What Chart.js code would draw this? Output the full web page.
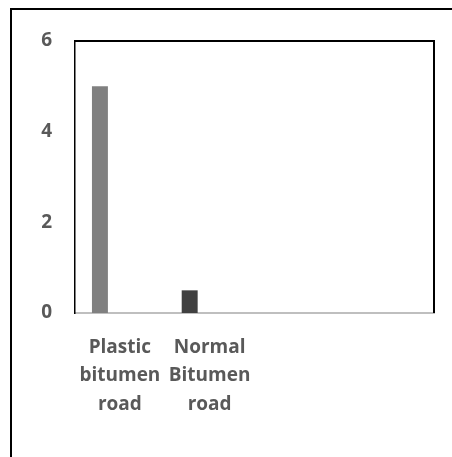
<!DOCTYPE html>
<html>
<head>
<meta charset="utf-8">
<script src="https://cdn.jsdelivr.net/npm/chart.js@4/dist/chart.umd.min.js"></script>
<style>
  html, body { margin: 0; padding: 0; background: #fff; }
  #wrap { position: relative; width: 452px; height: 457px; overflow: hidden; }
  #frame { position: absolute; left: 10px; top: 8px; width: 470px; height: 480px;
           border: 2px solid #000; box-sizing: border-box; }
  canvas { position: absolute; left: 0; top: 0; }
</style>
</head>
<body>
<div id="wrap">
  <div id="frame"></div>
  <canvas id="c" width="452" height="457"></canvas>
</div>
<script>
// Categories along the x axis (two trailing slots are empty)
const categories = [
  ["Plastic", "bitumen", "road"],
  ["Normal", "Bitumen", "road"],
  "",
  ""
];
// Measured values per road type
const roadValues = [5, 0.5, null, null];
// Second series slot, left without values
const spareValues = [null, null, null, null];
const barColors = ["#808080", "#404040", "#808080", "#808080"];
// Y axis ticks
const yTicks = [0, 2, 4, 6];

const textGray = "#595959";
const fontFamily = "'Open Sans', 'Noto Sans', sans-serif";

// Black frame on the top and right sides of the plot area
const plotFrame = {
  id: "plotFrame",
  afterDraw(chart) {
    const { ctx, chartArea: a } = chart;
    ctx.save();
    ctx.strokeStyle = "#000";
    ctx.lineWidth = 2;
    ctx.beginPath();
    ctx.moveTo(a.left, a.top);
    ctx.lineTo(a.right, a.top);
    ctx.lineTo(a.right, a.bottom);
    ctx.stroke();
    ctx.restore();
  }
};

new Chart(document.getElementById("c"), {
  type: "bar",
  data: {
    labels: categories,
    datasets: [
      { label: "Road", data: roadValues, backgroundColor: barColors,
        barPercentage: 0.4, categoryPercentage: 0.889 },
      { label: "Spare", data: spareValues, backgroundColor: "#404040",
        barPercentage: 0.4, categoryPercentage: 0.889 }
    ]
  },
  options: {
    responsive: false,
    animation: false,
    devicePixelRatio: 1,
    layout: { padding: { left: 0, top: 41, right: 18, bottom: 0 } },
    plugins: { legend: { display: false }, tooltip: { enabled: false } },
    scales: {
      x: {
        grid: { display: false, drawTicks: false },
        border: { display: true, color: "#bfbfbf", width: 2 },
        ticks: { color: textGray, font: { family: fontFamily, size: 19, weight: "bold", lineHeight: 1.5 },
                 padding: 20, maxRotation: 0, autoSkip: false },
        afterFit(scale) { scale.height = 144; }
      },
      y: {
        min: 0, max: 6,
        afterBuildTicks(scale) { scale.ticks = yTicks.map(v => ({ value: v })); },
        grid: { display: false, drawTicks: false },
        border: { display: true, color: "#000", width: 1.5 },
        ticks: { color: textGray, font: { family: fontFamily, size: 19, weight: "bold" }, padding: 23 },
        afterFit(scale) { scale.width = 75; }
      }
    }
  },
  plugins: [plotFrame]
});
</script>
</body>
</html>
